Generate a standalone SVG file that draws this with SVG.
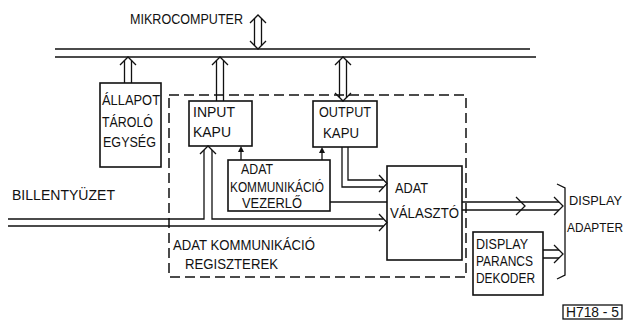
<svg xmlns="http://www.w3.org/2000/svg" width="627" height="320" viewBox="0 0 627 320">
<style>
.bg{fill:#fff}
.box{fill:none;stroke:#111;stroke-width:1.6}
.dash{fill:none;stroke:#111;stroke-width:1.5;stroke-dasharray:10 5}
.ln{fill:none;stroke:#111;stroke-width:1.3}
.chev{fill:none;stroke:#111;stroke-width:1.3;stroke-linejoin:miter}
.tip{fill:#111}
text{font-family:"Liberation Sans",Arial,sans-serif;font-size:14px;fill:#111}
.sm{font-size:12px}
</style>
<rect class="bg" x="0" y="0" width="627" height="320"/>

<g id="bus-mikrocomputer">
<path class="ln" d="M55,49 H530 M55,57 H536"/>
<text x="130" y="24" textLength="113" lengthAdjust="spacingAndGlyphs">MIKROCOMPUTER</text>
</g>

<g id="node-allapot">
<rect class="box" x="100" y="83" width="61" height="84"/>
<text x="102" y="105" textLength="58" lengthAdjust="spacingAndGlyphs">ÁLLAPOT</text>
<text x="102" y="127" textLength="51" lengthAdjust="spacingAndGlyphs">TÁROLÓ</text>
<text x="103" y="147" textLength="53" lengthAdjust="spacingAndGlyphs">EGYSÉG</text>
</g>

<g id="node-registers">
<rect class="dash" x="169" y="95" width="297" height="182"/>
<text x="173" y="250" textLength="142" lengthAdjust="spacingAndGlyphs">ADAT KOMMUNIKÁCIÓ</text>
<text x="185" y="269" textLength="93" lengthAdjust="spacingAndGlyphs">REGISZTEREK</text>
</g>

<g id="node-input">
<rect class="box" x="189" y="101" width="63" height="45"/>
<text x="193" y="117" textLength="42" lengthAdjust="spacingAndGlyphs">INPUT</text>
<text x="193" y="137" textLength="38" lengthAdjust="spacingAndGlyphs">KAPU</text>
</g>

<g id="node-output">
<rect class="box" x="313" y="101" width="64" height="46"/>
<text x="319" y="117" textLength="52" lengthAdjust="spacingAndGlyphs">OUTPUT</text>
<text x="323" y="138" textLength="36" lengthAdjust="spacingAndGlyphs">KAPU</text>
</g>

<g id="node-vezerlo">
<rect class="box" x="228" y="160" width="102" height="51"/>
<text x="241" y="174" textLength="32" lengthAdjust="spacingAndGlyphs">ADAT</text>
<text x="230" y="192" textLength="94" lengthAdjust="spacingAndGlyphs">KOMMUNIKÁCIÓ</text>
<text x="242" y="208" textLength="60" lengthAdjust="spacingAndGlyphs">VEZERLŐ</text>
</g>

<g id="node-valaszto">
<rect class="box" x="387" y="166" width="75" height="94"/>
<text x="395" y="193" textLength="33" lengthAdjust="spacingAndGlyphs">ADAT</text>
<text x="390" y="218" textLength="69" lengthAdjust="spacingAndGlyphs">VÁLASZTÓ</text>
</g>

<g id="node-dekoder">
<rect class="box" x="473" y="232" width="70" height="63"/>
<text x="476" y="249" textLength="52" lengthAdjust="spacingAndGlyphs">DISPLAY</text>
<text x="476" y="266" textLength="57" lengthAdjust="spacingAndGlyphs">PARANCS</text>
<text x="476" y="283" textLength="59" lengthAdjust="spacingAndGlyphs">DEKODER</text>
</g>

<g id="node-billentyuzet">
<text x="12" y="200" textLength="103" lengthAdjust="spacingAndGlyphs">BILLENTYÜZET</text>
</g>

<g id="node-display-adapter">
<path class="ln" d="M557,184 L565,188 V275 L557,279"/>
<text class="sm" x="569" y="205" textLength="53" lengthAdjust="spacingAndGlyphs">DISPLAY</text>
<text class="sm" x="567" y="232" textLength="56" lengthAdjust="spacingAndGlyphs">ADAPTER</text>
</g>

<g id="label-h718">
<rect class="ln" x="563" y="305" width="59" height="14"/>
<text x="566" y="317" textLength="53" lengthAdjust="spacingAndGlyphs">H718 - 5</text>
</g>

<g id="connectors">
<path class="ln" d="M254.5,18.5 V45.5 M261.5,18.5 V45.5"/>
<polyline class="chev" points="250,23 258,15 266,23"/>
<polyline class="chev" points="250,41 258,49 266,41"/>
<path class="ln" d="M124.5,60.5 V83 M131.5,60.5 V83"/>
<polyline class="chev" points="120,65 128,57 136,65"/>
<path class="ln" d="M216.5,60.5 V101 M223.5,60.5 V101"/>
<polyline class="chev" points="212,65 220,57 228,65"/>
<path class="ln" d="M339.5,60.5 V97.5 M346.5,60.5 V97.5"/>
<polyline class="chev" points="335,65 343,57 351,65"/>
<polyline class="chev" points="335,93 343,101 351,93"/>
<path class="ln" d="M8,219 H204 V150 M212,150 V219 H383.5 M8,226 H383.5"/>
<polyline class="chev" points="200,154 208,146 216,154"/>
<polyline class="chev" points="379,214 387,222.5 379,231"/>
<path class="ln" d="M348,147 V180 H383.5 M342,147 V187 H383.5"/>
<polyline class="chev" points="379,175 387,183.5 379,192"/>
<path class="ln" d="M330,202 H387"/>
<path class="ln" d="M241,160 V151 M322,160 V151"/>
<polygon class="tip" points="241,146 238,152 244,152"/>
<polygon class="tip" points="322,147 319,153 325,153"/>
<path class="ln" d="M462,202 H559 M462,210 H559"/>
<polyline class="chev" points="516,197 525,206 516,215"/>
<polyline class="chev" points="554,197 563,206 554,215"/>
<path class="ln" d="M543,250 H559 M543,258 H559"/>
<polyline class="chev" points="554,245 563,254 554,263"/>
</g>
</svg>
